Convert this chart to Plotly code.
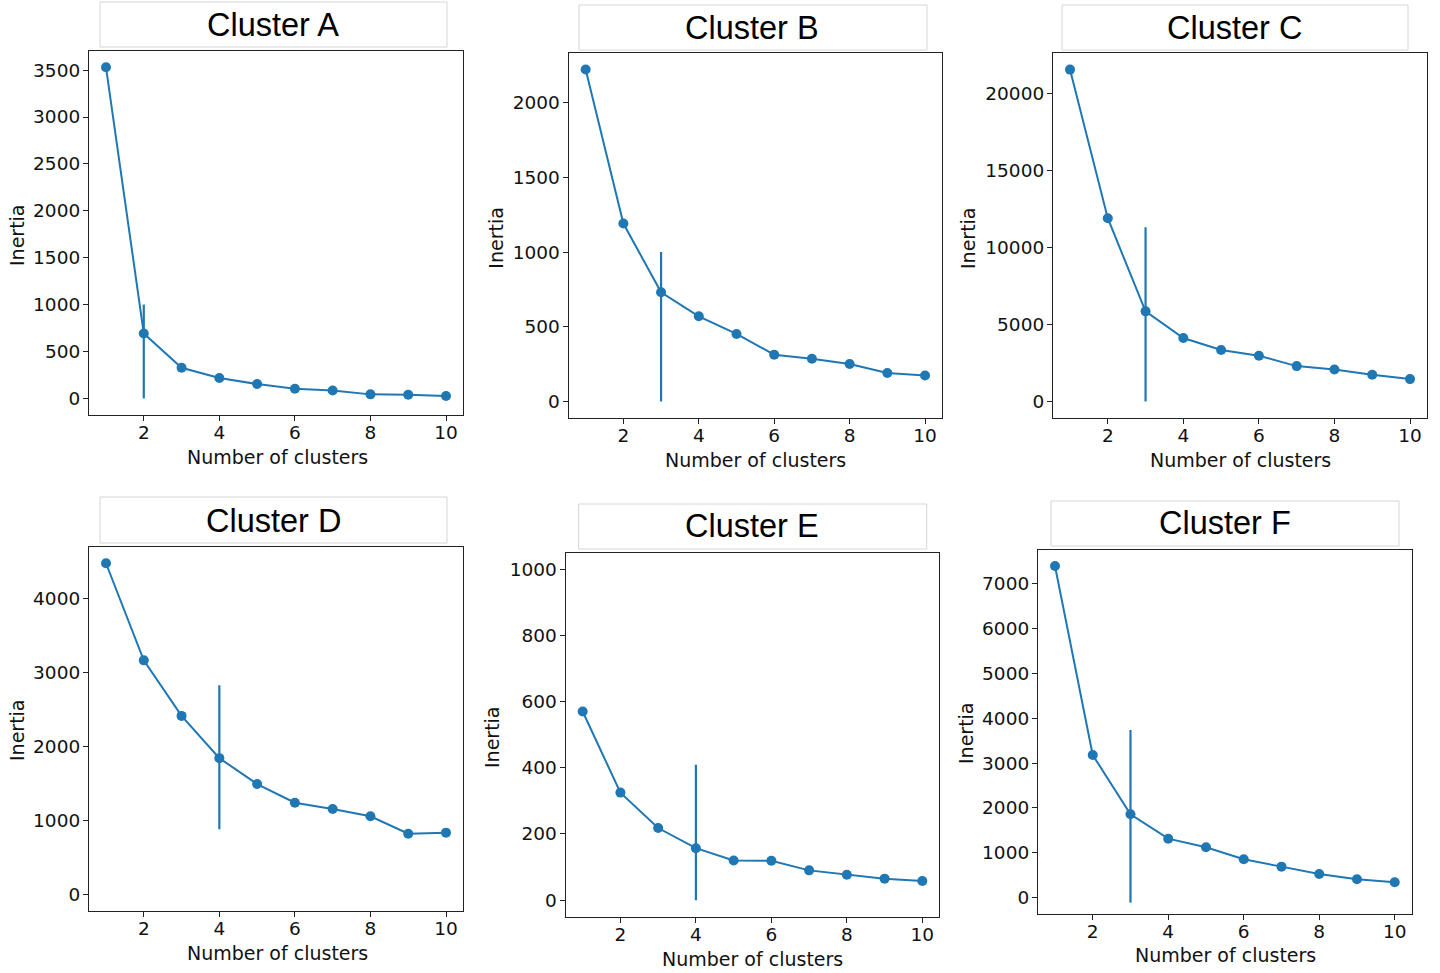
import plotly.graph_objects as go

W, H = 1440, 973

k_values = [1, 2, 3, 4, 5, 6, 7, 8, 9, 10]
titles = ["Cluster A", "Cluster B", "Cluster C", "Cluster D", "Cluster E", "Cluster F"]

inertia_a = [3530, 692, 327, 217, 153, 103, 85, 43, 39, 25]
inertia_b = [2222, 1191, 731, 570, 452, 313, 286, 251, 190, 174]
inertia_c = [21570, 11910, 5857, 4121, 3341, 2972, 2299, 2082, 1735, 1453]
inertia_d = [4481, 3166, 2414, 1842, 1491, 1238, 1153, 1054, 819, 833]
inertia_e = [570, 325, 218, 157, 120, 119, 90, 77, 65, 58]
inertia_f = [7402, 3179, 1854, 1310, 1117, 849, 685, 521, 402, 335]
series = [inertia_a, inertia_b, inertia_c, inertia_d, inertia_e, inertia_f]

# elbow marker lines (x, low, high)
elbow_k = [2, 3, 3, 4, 4, 3]
elbow_lo = [0, 0, 0, 880, 0, -120]
elbow_hi = [1000, 1000, 11320, 2830, 409, 3740]

y_ticks = [
    [0, 500, 1000, 1500, 2000, 2500, 3000, 3500],
    [0, 500, 1000, 1500, 2000],
    [0, 5000, 10000, 15000, 20000],
    [0, 1000, 2000, 3000, 4000],
    [0, 200, 400, 600, 800, 1000],
    [0, 1000, 2000, 3000, 4000, 5000, 6000, 7000],
]
x_ticks = [2, 4, 6, 8, 10]

# layout (pixel geometry)
frames = [  # x0, x1, y0(top), y1(bottom)
    (89, 463, 50.7, 415),
    (568.7, 942, 53, 418),
    (1053, 1427, 53, 418),
    (89, 463, 546.7, 910.7),
    (565.7, 939.3, 552.7, 916.7),
    (1038, 1411.7, 549.7, 914),
]
y_ranges = [(-177, 3707), (-111, 2333), (-1075, 22650), (-224, 4705), (-50, 1050), (-373, 7766)]
x_range = (0.55, 10.45)
title_boxes = [  # x0, x1, y0, y1
    (100, 447, 2, 47),
    (579, 927, 5, 50),
    (1062, 1408, 5, 50),
    (100, 447, 497, 543),
    (578.7, 926.7, 504, 549),
    (1051, 1399, 501, 546),
]
title_pos = [(273, 25), (752, 28), (1234.5, 28), (273, 521), (752, 526), (1225, 523)]
ylab_pos = [(17, 235), (495.7, 238), (968, 238), (17, 730), (492, 737), (966, 733)]
xlab_pos = [(277, 457), (755, 460), (1240, 460), (277, 953), (752, 959), (1225, 955)]

BLUE = "#1f77b4"
TICKFONT = dict(family="DejaVu Sans", size=18.5, color="#111")

def px(x):
    return x / W

def py(y):
    return 1 - y / H

fig = go.Figure()
layout = dict(
    width=W, height=H,
    margin=dict(l=0, r=0, t=0, b=0),
    paper_bgcolor="white", plot_bgcolor="white",
    showlegend=False,
)
shapes = []
annotations = []

for i in range(6):
    n = "" if i == 0 else str(i + 1)
    xa, ya = "x" + n, "y" + n
    fig.add_trace(go.Scatter(
        x=k_values, y=series[i], mode="lines+markers",
        line=dict(color=BLUE, width=2),
        marker=dict(color=BLUE, size=10),
        xaxis=xa, yaxis=ya, hoverinfo="x+y",
    ))
    fig.add_trace(go.Scatter(
        x=[elbow_k[i], elbow_k[i]], y=[elbow_lo[i], elbow_hi[i]], mode="lines",
        line=dict(color=BLUE, width=2.2),
        xaxis=xa, yaxis=ya, hoverinfo="skip",
    ))
    x0, x1, t, b = frames[i]
    common = dict(
        showline=True, mirror=True, linecolor="#222", linewidth=1.2,
        ticks="outside", ticklen=5, tickwidth=1.2, tickcolor="#222",
        showgrid=False, zeroline=False, tickfont=TICKFONT,
    )
    layout["xaxis" + n] = dict(
        domain=[px(x0), px(x1)], anchor=ya, range=list(x_range),
        tickvals=x_ticks, ticktext=[str(v) for v in x_ticks],
        ticklabelstandoff=-4, **common,
    )
    layout["yaxis" + n] = dict(
        domain=[py(b), py(t)], anchor=xa, range=list(y_ranges[i]),
        tickvals=y_ticks[i], ticktext=[str(v) for v in y_ticks[i]],
        ticklabelstandoff=-1, **common,
    )
    bx0, bx1, by0, by1 = title_boxes[i]
    shapes.append(dict(
        type="rect", xref="paper", yref="paper",
        x0=px(bx0), x1=px(bx1), y0=py(by1), y1=py(by0),
        line=dict(color="#d6d6d6", width=1), fillcolor="white", layer="below",
    ))
    tx, ty = title_pos[i]
    annotations.append(dict(
        text=titles[i], x=px(tx), y=py(ty), xref="paper", yref="paper",
        showarrow=False, xanchor="center", yanchor="middle",
        font=dict(family="Liberation Sans, Arial, sans-serif", size=32.5, color="black"),
    ))
    lx, ly = ylab_pos[i]
    annotations.append(dict(
        text="Inertia", x=px(lx), y=py(ly), xref="paper", yref="paper",
        showarrow=False, xanchor="center", yanchor="middle", textangle=-90,
        font=dict(family="DejaVu Sans", size=19, color="#111"),
    ))
    lx, ly = xlab_pos[i]
    annotations.append(dict(
        text="Number of clusters", x=px(lx), y=py(ly), xref="paper", yref="paper",
        showarrow=False, xanchor="center", yanchor="middle",
        font=dict(family="DejaVu Sans", size=19, color="#111"),
    ))

layout["shapes"] = shapes
layout["annotations"] = annotations
fig.update_layout(**layout)
fig.write_html("out.html")
